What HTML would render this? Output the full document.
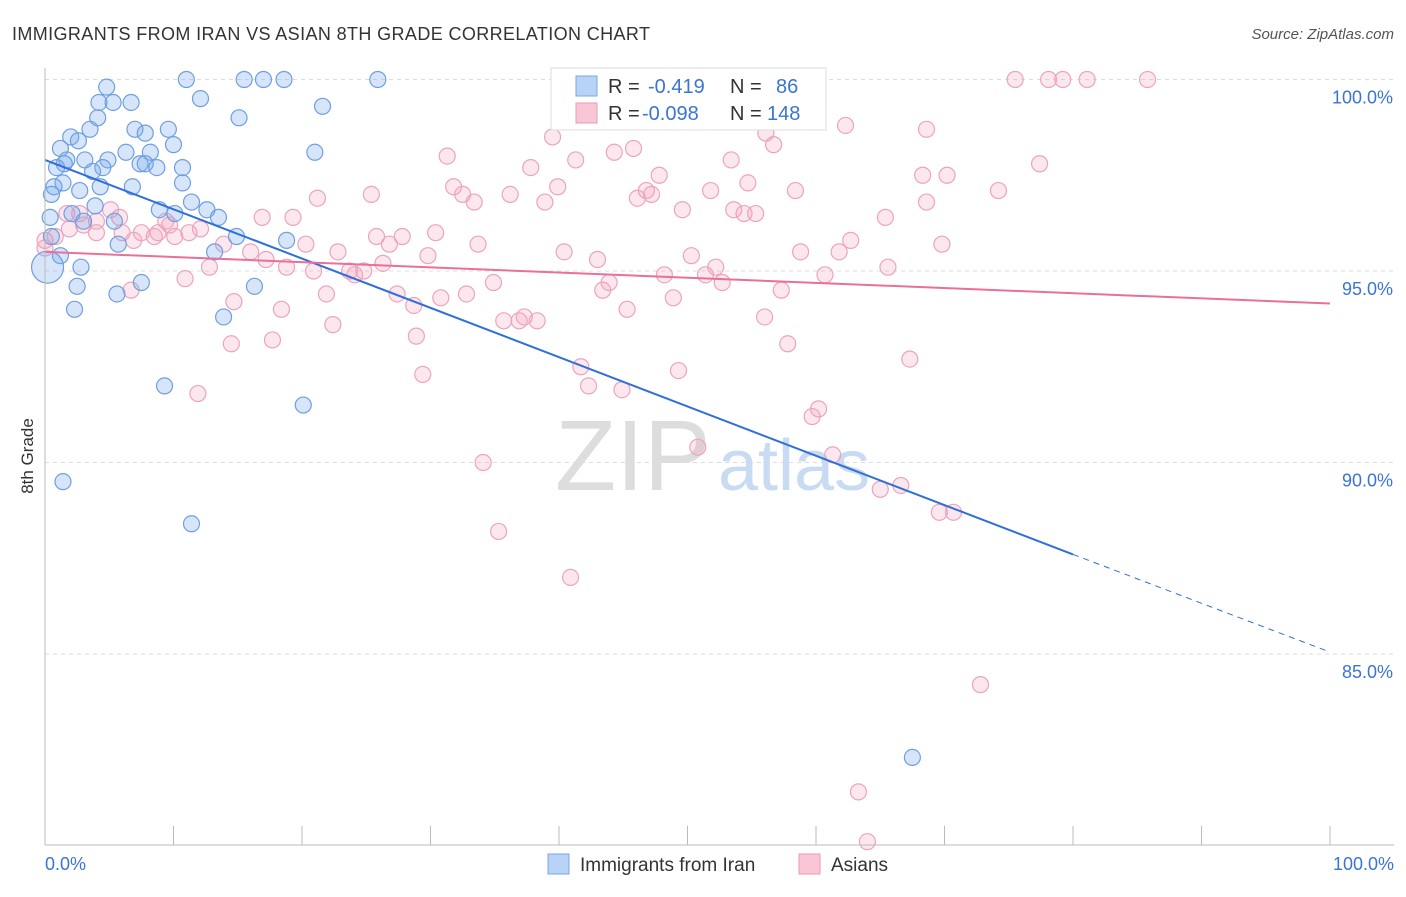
<!DOCTYPE html>
<html><head><meta charset="utf-8"><style>
body{margin:0;background:#fff;font-family:"Liberation Sans",sans-serif;}
svg text{font-family:"Liberation Sans",sans-serif;}
</style></head><body>
<svg id="chart" width="1406" height="892" xmlns="http://www.w3.org/2000/svg">
<text x="12" y="40" font-size="18" fill="#333" textLength="638">IMMIGRANTS FROM IRAN VS ASIAN 8TH GRADE CORRELATION CHART</text>
<text x="1394" y="39" font-size="15" fill="#555" text-anchor="end" font-style="italic">Source: ZipAtlas.com</text>
<text transform="translate(33,456) rotate(-90)" font-size="17" fill="#333" text-anchor="middle">8th Grade</text>
<g id="grid"></g>
<g><text x="555" y="490" font-size="100" fill="#ddd" font-family="Liberation Serif">ZIP</text><text x="718" y="490" font-size="72" fill="#c9dbf3">atlas</text></g>
<g id="pts"></g>
<g id="lines"></g>
<g id="axes"></g>
<g>
<rect x="551" y="68" width="275" height="62" fill="#fff" stroke="#ddd"/>
<rect x="576" y="76" width="21" height="20" fill="#b8d3f5" stroke="#7aa8e8"/>
<rect x="576" y="103" width="21" height="20" fill="#f9c6d5" stroke="#ec9ab4"/>
<text x="608" y="93" font-size="20" fill="#333">R = </text><text x="648" y="93" font-size="20" fill="#3a74d4">-0.419</text>
<text x="730" y="93" font-size="20" fill="#333">N = </text><text x="776" y="93" font-size="20" fill="#3a74d4">86</text>
<text x="608" y="120" font-size="20" fill="#333">R = </text><text x="642" y="120" font-size="20" fill="#3a74d4">-0.098</text>
<text x="730" y="120" font-size="20" fill="#333">N = </text><text x="767" y="120" font-size="20" fill="#3a74d4">148</text>
</g>
<g>
<rect x="548" y="854" width="21" height="20" fill="#b8d3f5" stroke="#7aa8e8"/>
<text x="580" y="871" font-size="19" fill="#333">Immigrants from Iran</text>
<rect x="799" y="854" width="21" height="20" fill="#f9c6d5" stroke="#ec9ab4"/>
<text x="831" y="871" font-size="19" fill="#333">Asians</text>
</g>
</svg>
<script>
const yTicks=[100,95,90,85];
const yTickLabels=["100.0%","95.0%","90.0%","85.0%"];
const xTickLabels=["0.0%","100.0%"];
const blueX=[4.8,4.2,5.3,6.7,11.0,15.5,17.0,18.6,25.9,12.1,21.6,15.1,4.1,3.5,2.0,2.6,7.0,7.8,9.6,10.0,6.3,8.2,1.2,1.7,1.5,0.9,3.1,4.9,4.5,7.4,7.8,8.7,10.7,21.0,3.7,10.7,6.8,4.3,1.4,0.7,0.5,2.7,11.4,12.6,13.5,10.1,3.9,2.1,3.0,5.4,14.9,18.8,0.4,0.5,1.2,2.8,2.5,7.5,5.6,16.3,2.3,13.9,9.3,20.1,1.4,11.4,67.5,0.2,5.7,13.2,8.9];
const blueY=[99.8,99.4,99.4,99.4,100,100,100,100,100,99.5,99.3,99.0,99.0,98.7,98.5,98.4,98.7,98.6,98.7,98.3,98.1,98.1,98.2,97.9,97.8,97.7,97.9,97.9,97.7,97.8,97.8,97.7,97.7,98.1,97.6,97.3,97.2,97.2,97.3,97.2,97.0,97.1,96.8,96.6,96.4,96.5,96.7,96.5,96.3,96.3,95.9,95.8,96.4,95.9,95.4,95.1,94.6,94.7,94.4,94.6,94.0,93.8,92.0,91.5,89.5,88.4,82.3,95.1,95.7,95.5,96.6];
const pinkX=[75.5,78.1,79.2,81.1,85.8,62.3,68.6,56.1,39.5,56.7,45.8,44.3,31.3,41.3,53.4,77.4,37.8,47.8,68.3,70.2,54.7,31.8,39.9,25.4,36.2,46.8,51.8,58.4,74.2,32.5,46.1,47.2,33.4,21.2,38.9,68.6,49.6,53.6,54.4,55.3,65.4,16.9,19.3,30.4,25.8,27.8,26.8,33.7,40.4,69.8,62.7,61.8,58.8,50.3,43.0,29.8,22.8,20.3,26.3,16.0,13.9,17.2,18.8,20.9,23.7,24.1,24.8,65.6,52.2,51.4,48.2,43.9,34.9,43.4,52.7,60.7,57.3,27.4,30.8,32.8,21.9,18.4,14.7,12.8,10.9,45.3,48.9,28.7,35.7,36.9,38.3,37.3,22.4,56.0,28.9,17.7,14.5,57.8,41.7,67.3,49.3,42.3,44.9,29.4,11.9,60.2,59.7,61.3,50.8,34.1,65.0,66.6,69.6,70.7,35.3,40.9,72.8,63.3,64.0,0,0.8,1.7,2.7,4.0,5.1,5.8,7.5,8.5,8.8,10.1,11.2,12.1,9.4,9.7,6.0,3.0,4.0,6.9,1.9,6.7,0];
const pinkY=[100,100,100,100,100,98.8,98.7,98.6,98.5,98.3,98.2,98.1,98.0,97.9,97.9,97.8,97.7,97.5,97.5,97.5,97.3,97.2,97.2,97.0,97.0,97.1,97.1,97.1,97.1,97.0,96.9,97.0,96.8,96.9,96.8,96.8,96.6,96.6,96.5,96.5,96.4,96.4,96.4,96.0,95.9,95.9,95.7,95.7,95.5,95.7,95.8,95.5,95.5,95.4,95.3,95.4,95.5,95.7,95.2,95.5,95.7,95.3,95.1,95.0,95.0,94.9,95.0,95.1,95.1,94.9,94.9,94.7,94.7,94.5,94.7,94.9,94.5,94.4,94.3,94.4,94.4,94.0,94.2,95.1,94.8,94.0,94.3,94.1,93.7,93.7,93.7,93.8,93.6,93.8,93.3,93.2,93.1,93.1,92.5,92.7,92.4,92.0,91.9,92.3,91.8,91.4,91.2,90.2,90.4,90.0,89.3,89.4,88.7,88.7,88.2,87.0,84.2,81.4,80.1,95.8,95.9,96.5,96.5,96.3,96.6,96.4,96.0,95.9,96.0,95.9,96.0,96.1,96.3,96.2,96.0,96.2,96.0,95.8,96.1,94.5,95.6];
const blueTrend=[97.9,87.6,85.05];
const pinkTrend=[95.5,94.15];
const NS="http://www.w3.org/2000/svg";
const X=v=>45+v*12.85, Y=v=>79.5+(100-v)*38.3;
function mk(tag,attrs,parent){const e=document.createElementNS(NS,tag);for(const k in attrs)e.setAttribute(k,attrs[k]);parent.appendChild(e);return e;}
const grid=document.getElementById('grid'),axes=document.getElementById('axes'),pts=document.getElementById('pts'),lines=document.getElementById('lines');
yTicks.forEach((t,i)=>{const l=mk('line',{x1:45,x2:1394,y1:Y(t),y2:Y(t),stroke:'#ddd','stroke-dasharray':'4,4'},grid);


const tx=mk('text',{x:1393,y:Y(t)+24,'font-size':18,fill:'#3a74d4','text-anchor':'end'},axes);tx.textContent=yTickLabels[i];

});
mk('line',{x1:45,x2:45,y1:68,y2:845,stroke:'#bbb'},axes);
mk('line',{x1:45,x2:1394,y1:845,y2:845,stroke:'#bbb'},axes);
for(let i=0;i<=10;i++){const t=mk('line',{x1:X(i*10),x2:X(i*10),y1:826,y2:845,stroke:'#bbb'},axes);

}
const xl0=mk('text',{x:45,y:870,'font-size':18,fill:'#3a74d4'},axes);xl0.textContent=xTickLabels[0];


const xl1=mk('text',{x:1394,y:870,'font-size':18,fill:'#3a74d4','text-anchor':'end'},axes);xl1.textContent=xTickLabels[1];


pinkX.forEach((v,i)=>{const c=mk('circle',{cx:X(v),cy:Y(pinkY[i]),r:8,fill:'rgba(244,160,188,0.25)',stroke:'#eca4bc','stroke-width':1.2},pts);

});
blueX.forEach((v,i)=>{const c=mk('circle',{cx:X(v),cy:Y(blueY[i]),r:i==67?16:8,fill:'rgba(120,170,235,0.3)',stroke:'#6f9fe0','stroke-width':1.2},pts);

});
const b1=mk('line',{x1:X(0),y1:Y(blueTrend[0]),x2:X(80),y2:Y(blueTrend[1]),stroke:'#2f6fd8','stroke-width':2},lines);


const b2=mk('line',{x1:X(80),y1:Y(blueTrend[1]),x2:X(100),y2:Y(blueTrend[2]),stroke:'#2f6fd8','stroke-width':1,'stroke-dasharray':'6,5'},lines);


const p1=mk('line',{x1:X(0),y1:Y(pinkTrend[0]),x2:X(100),y2:Y(pinkTrend[1]),stroke:'#e8709a','stroke-width':2},lines);


</script>
</body></html>
